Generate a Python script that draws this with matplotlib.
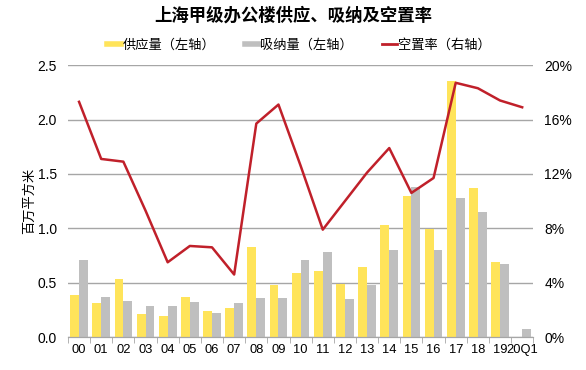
import matplotlib
matplotlib.use("Agg")
import matplotlib.pyplot as plt
import numpy as np
from matplotlib.lines import Line2D
from matplotlib.ticker import FuncFormatter

plt.rcParams["font.family"] = ["Liberation Sans", "Noto Sans CJK SC", "DejaVu Sans"]

# Data
years = ["00", "01", "02", "03", "04", "05", "06", "07", "08", "09", "10",
         "11", "12", "13", "14", "15", "16", "17", "18", "19", "20Q1"]
supply = [0.39, 0.31, 0.53, 0.21, 0.19, 0.37, 0.24, 0.27, 0.83, 0.48, 0.59,
          0.61, 0.49, 0.64, 1.03, 1.30, 0.99, 2.35, 1.37, 0.69, 0.0]
absorption = [0.71, 0.37, 0.33, 0.29, 0.29, 0.32, 0.22, 0.31, 0.36, 0.36, 0.71,
              0.78, 0.35, 0.48, 0.80, 1.38, 0.80, 1.28, 1.15, 0.67, 0.07]
vacancy = [17.3, 13.1, 12.9, 9.3, 5.5, 6.7, 6.6, 4.6, 15.7, 17.1, 12.6,
           7.9, 10.0, 12.1, 13.9, 10.6, 11.7, 18.7, 18.3, 17.4, 16.9]

YELLOW = "#FFE45A"
GREY = "#BFBFBF"
RED = "#C0202A"

fig = plt.figure(figsize=(5.86, 3.70), dpi=100)
ax = fig.add_axes([0.116, 0.089, 0.794, 0.735])
ax2 = ax.twinx()

x = np.arange(len(years))
w = 0.4
ax.bar(x - w / 2, supply, width=w, color=YELLOW, zorder=2)
ax.bar(x + w / 2, absorption, width=w, color=GREY, zorder=2)
ax2.plot(x, vacancy, color=RED, lw=1.8, zorder=3)

ax.set_xlim(-0.5, len(years) - 0.5)
ax.set_ylim(0, 2.5)
ax.set_yticks(np.arange(0, 2.51, 0.5))
ax.yaxis.set_major_formatter(FuncFormatter(lambda v, p: f"{v:.1f}"))
ax.yaxis.grid(True, color="#A6A6A6", lw=1.0, zorder=0)
ax.set_axisbelow(True)

ax2.set_ylim(0, 20)
ax2.set_yticks(np.arange(0, 20.1, 4))
ax2.yaxis.set_major_formatter(FuncFormatter(lambda v, p: f"{v:.0f}%"))

ax.set_xticks(x)
ax.set_xticklabels(years)
ax.set_xticks(np.arange(-0.5, len(years), 1), minor=True)
ax.tick_params(axis="x", which="major", length=0, pad=5, labelsize=9.3)
ax.tick_params(axis="x", which="minor", length=4, color="#A6A6A6")
ax.tick_params(axis="y", length=0, pad=8, labelsize=10)
ax2.tick_params(axis="y", length=0, pad=8, labelsize=10)

for a in (ax, ax2):
    for s in ("top", "left", "right"):
        a.spines[s].set_visible(False)
    a.spines["bottom"].set_color("#A6A6A6")

ax.set_ylabel("百万平方米", family=["Noto Sans CJK SC"], fontsize=9.5, labelpad=1)

fig.text(0.5, 0.957, "上海甲级办公楼供应、吸纳及空置率", ha="center", va="center",
         fontsize=12.5, fontweight="bold", family=["Noto Sans CJK SC"])

handles = [Line2D([0], [0], color=YELLOW, lw=4),
           Line2D([0], [0], color=GREY, lw=4),
           Line2D([0], [0], color=RED, lw=2)]
labels = ["供应量（左轴）", "吸纳量（左轴）", "空置率（右轴）"]
fig.legend(handles, labels, loc="center", bbox_to_anchor=(0.51, 0.878), ncol=3,
           frameon=False, handlelength=1.1, handletextpad=0.1, columnspacing=2.2,
           prop={"family": "Noto Sans CJK SC", "size": 9.5})

fig.savefig("out.png", dpi=100)
